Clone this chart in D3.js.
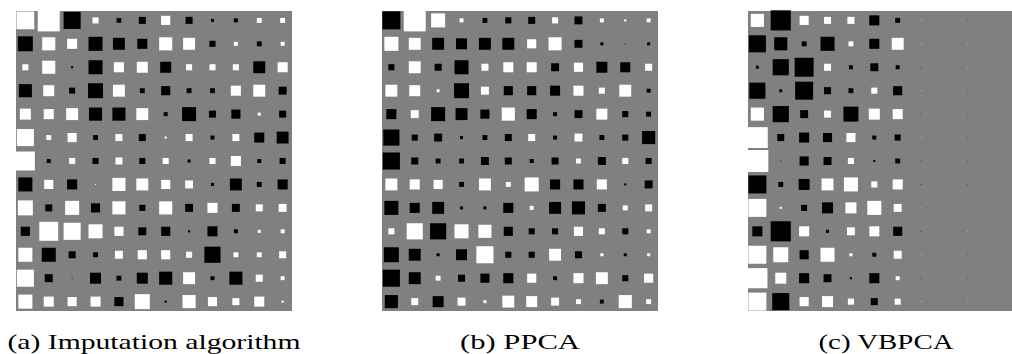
<!DOCTYPE html>
<html>
<head>
<meta charset="utf-8">
<script src="https://cdn.jsdelivr.net/npm/d3@7"></script>
<style>
  html, body { margin: 0; padding: 0; background: #fff; }
  svg { display: block; }
</style>
</head>
<body>
<div id="chart"></div>
<script>
// signed weights, 13 rows x 12 columns, row 0 on top
const imputation = [
  [0.76, 0.94, -0.73, 0.26, -0.2, -0.3, 0.39, -0.3, -0.13, -0.17, 0.21, 0.21],
  [-0.64, 0.56, 0.43, -0.6, -0.51, -0.43, 0.56, 0.51, -0.26, 0.17, -0.21, 0.17],
  [0.26, 0.56, -0.09, -0.6, 0.43, 0.47, -0.47, 0.26, 0.26, 0.26, -0.51, 0.43],
  [-0.56, 0.47, -0.26, -0.64, 0.51, -0.21, -0.39, -0.21, -0.21, 0.43, 0.51, -0.34],
  [0.47, 0.43, 0.51, -0.56, -0.56, 0.51, -0.17, -0.6, -0.3, -0.39, 0.13, -0.3],
  [0.73, 0.21, 0.39, -0.21, 0.3, -0.3, 0.09, 0.3, -0.17, 0.3, -0.43, -0.51],
  [0.81, -0.17, 0.26, -0.26, 0.3, -0.26, 0.26, -0.13, 0.26, 0.43, -0.17, -0.26],
  [-0.6, 0.39, -0.43, 0.04, 0.56, 0.51, 0.39, 0.34, -0.13, -0.51, -0.21, -0.43],
  [0.64, -0.3, 0.6, -0.39, 0.56, -0.26, 0.56, -0.34, 0.43, -0.34, 0.3, 0.34],
  [-0.39, 0.81, 0.73, 0.6, 0.39, -0.34, -0.39, -0.09, -0.43, -0.17, 0.13, 0.17],
  [0.6, -0.6, -0.3, -0.21, 0.34, 0.39, 0.39, 0.26, -0.69, 0.21, 0.21, 0.3],
  [0.73, -0.34, -0.04, -0.47, -0.21, -0.47, -0.56, 0.51, -0.17, -0.56, 0.3, 0.17],
  [0.6, 0.43, 0.39, 0.43, -0.39, 0.64, -0.09, 0.56, 0.39, 0.3, 0.43, 0.09]
];

const ppca = [
  [-0.77, 0.94, 0.6, 0.17, -0.21, -0.26, -0.3, 0.26, -0.34, 0.17, 0.09, 0.17],
  [0.6, 0.51, -0.51, -0.47, -0.51, -0.51, 0.39, 0.56, -0.34, -0.13, -0.04, -0.13],
  [-0.26, 0.51, -0.3, -0.6, 0.3, 0.43, 0.43, -0.34, 0.39, -0.47, -0.43, 0.3],
  [0.51, 0.47, 0.13, -0.64, 0.34, -0.39, -0.39, -0.43, 0.43, 0.26, 0.51, -0.17],
  [-0.43, 0.34, -0.6, -0.51, -0.39, 0.56, -0.43, -0.17, -0.34, 0.47, -0.26, -0.21],
  [-0.69, -0.26, -0.34, -0.13, -0.21, -0.3, 0.3, -0.17, 0.34, -0.21, -0.26, -0.56],
  [-0.73, -0.3, -0.21, -0.21, -0.34, -0.3, -0.17, -0.3, 0.21, -0.34, 0.26, -0.26],
  [0.51, 0.43, 0.39, -0.21, 0.51, 0.21, 0.6, -0.43, -0.43, 0.43, -0.09, -0.34],
  [-0.6, -0.43, -0.51, -0.13, -0.13, -0.43, 0.17, -0.51, -0.56, -0.34, 0.21, 0.3],
  [0.26, 0.69, -0.69, 0.6, 0.56, -0.39, -0.26, -0.26, 0.39, 0.26, -0.26, 0.17],
  [-0.64, -0.51, -0.13, -0.47, 0.73, -0.26, -0.26, 0.51, -0.3, 0.13, -0.13, 0.13],
  [-0.73, -0.51, 0.21, -0.3, -0.39, -0.43, 0.39, -0.17, 0.43, 0.51, -0.26, 0.39],
  [-0.56, 0.3, -0.47, 0.34, 0.13, 0.51, 0.47, 0.34, 0.21, -0.17, 0.56, 0.21]
];

const vbpca = [
  [0.56, -0.86, 0.39, 0.3, 0.3, -0.43, -0.21, 0.03, -0.02, -0.03, -0.02, 0.02],
  [-0.73, -0.56, -0.21, -0.6, 0.21, -0.43, 0.51, 0.03, -0.02, 0.03, 0.02, -0.02],
  [-0.13, -0.69, -0.81, 0.3, -0.17, -0.34, -0.17, -0.03, -0.02, 0.03, 0.02, 0.02],
  [-0.69, -0.13, -0.77, -0.3, -0.21, 0.26, -0.39, 0.03, 0.02, -0.03, -0.02, -0.02],
  [0.56, -0.69, -0.34, 0.3, -0.64, 0.47, 0.43, -0.03, 0.02, -0.03, -0.02, 0.02],
  [0.89, -0.3, -0.43, -0.39, 0.39, -0.17, -0.26, 0.03, 0.02, -0.03, -0.02, -0.02],
  [0.94, -0.04, -0.39, -0.34, 0.26, -0.09, -0.21, -0.03, 0.02, -0.03, -0.02, 0.02],
  [-0.77, -0.21, -0.47, 0.51, 0.6, 0.26, 0.43, -0.03, 0.02, -0.03, -0.02, 0.02],
  [0.77, 0.09, -0.26, -0.47, 0.47, 0.6, 0.34, 0.03, -0.02, 0.03, 0.02, -0.02],
  [-0.43, -0.86, 0.43, -0.13, 0.34, 0.43, -0.39, -0.03, -0.02, 0.03, 0.02, 0.02],
  [0.77, 0.64, -0.39, 0.6, 0.13, -0.17, 0.34, 0.03, 0.02, -0.03, -0.02, -0.02],
  [0.86, 0.47, -0.43, -0.34, -0.09, -0.43, 0.17, -0.03, 0.02, -0.03, 0.02, 0.02],
  [0.77, -0.73, 0.39, 0.47, 0.26, -0.3, 0.26, 0.03, -0.02, 0.03, 0.02, -0.02]
];

const captions = ["(a) Imputation algorithm", "(b) PPCA", "(c) VBPCA"];
const captionWidths = [293, 120, 135];

const width = 1012, height = 354;
const panelLeft = [16, 382, 748];
const panelW = 276, panelTop = 11, panelH = 300;

const svg = d3.select("#chart").append("svg")
    .attr("width", width)
    .attr("height", height);

function drawHinton(g, matrix) {
    const nRows = matrix.length, nCols = matrix[0].length;
    // cell centres; the grey patch reaches 0.4 cell past the outer centres
    const x = d3.scaleLinear().domain([-0.4, nCols - 0.6]).range([0, panelW]);
    const y = d3.scaleLinear().domain([-0.4, nRows - 0.6]).range([0, panelH]);
    const pitch = x(1) - x(0);
    const size = d3.scaleLinear().domain([0, 1]).range([0, pitch]);

    g.append("rect")
        .attr("width", panelW)
        .attr("height", panelH)
        .attr("fill", "#808080")
        .attr("shape-rendering", "crispEdges");

    const cells = [];
    matrix.forEach((row, i) => row.forEach((v, j) => cells.push({i, j, v})));

    g.selectAll(".cell")
        .data(cells)
        .enter()
        .append("rect")
        .attr("class", "cell")
        .attr("x", d => x(d.j) - size(Math.abs(d.v)) / 2)
        .attr("y", d => y(d.i) - size(Math.abs(d.v)) / 2)
        .attr("width", d => size(Math.abs(d.v)))
        .attr("height", d => size(Math.abs(d.v)))
        .attr("fill", d => d.v >= 0 ? "#fff" : "#000");
}

[imputation, ppca, vbpca].forEach((m, k) => {
    const g = svg.append("g")
        .attr("transform", "translate(" + [panelLeft[k], panelTop] + ")");
    drawHinton(g, m);

    svg.append("text")
        .attr("x", panelLeft[k] + panelW / 2)
        .attr("y", 349)
        .attr("text-anchor", "middle")
        .attr("font-family", "'Liberation Serif', 'DejaVu Serif', serif")
        .attr("font-size", 21)
        .attr("textLength", captionWidths[k])
        .attr("lengthAdjust", "spacingAndGlyphs")
        .attr("fill", "#000")
        .text(captions[k]);
});
</script>
</body>
</html>
